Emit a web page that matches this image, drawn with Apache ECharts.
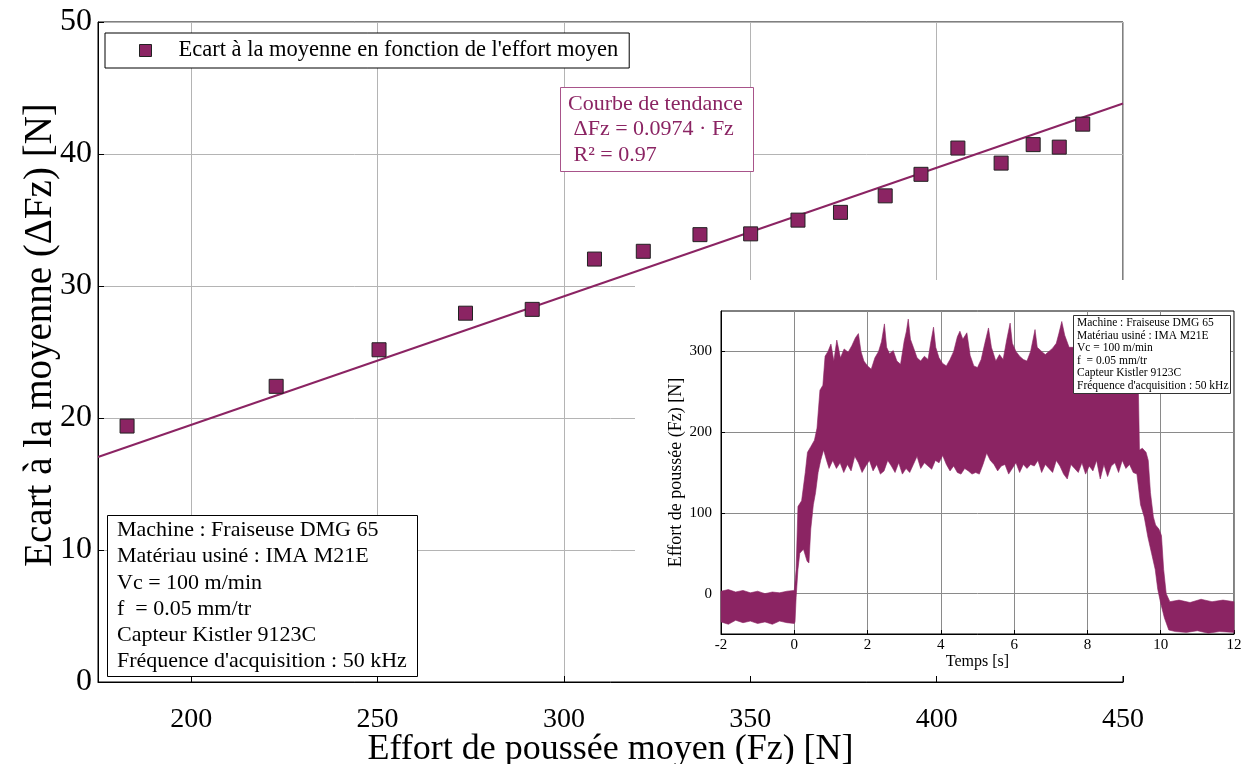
<!DOCTYPE html>
<html><head><meta charset="utf-8">
<script src="https://cdn.jsdelivr.net/npm/echarts@6/dist/echarts.min.js"></script>
<style>html,body{margin:0;padding:0;background:#fff}#c{width:1252px;height:764px}</style>
</head><body><div id="c"></div>
<script>
// ---- main scatter data ----
const effortMoyen = [182.8, 222.8, 250.4, 273.6, 291.5, 308.2, 321.3, 336.5, 350.1, 362.8, 374.2, 386.2, 395.8, 405.7, 417.3, 425.9, 432.9, 439.2];
const ecartMoyenne = [19.39, 22.4, 25.17, 27.94, 28.23, 32.04, 32.63, 33.89, 33.95, 34.99, 35.58, 36.83, 38.46, 40.45, 39.31, 40.71, 40.52, 42.26];
const trendSlope = 0.0974;
const trendRange = [175, 450];
const xTicks = [200, 250, 300, 350, 400, 450];
const yTicks = [0, 10, 20, 30, 40, 50];
// ---- inset signal envelope (time [s], force [N]) ----
const insetXTicks = [-2, 0, 2, 4, 6, 8, 10, 12];
const insetYTicks = [0, 100, 200, 300];
const insetUpper = [[-2,3],[-1.8,5],[-1.6,2],[-1.4,4],[-1.2,1],[-1.0,3],[-0.8,0],[-0.6,2],[-0.4,1],[-0.2,3],[0.0,4],[0.05,30],[0.1,108],[0.2,115],[0.3,150],[0.36,175],[0.45,182],[0.55,190],[0.62,205],[0.7,252],[0.78,258],[0.84,294],[0.92,300],[1.0,309],[1.08,288],[1.16,314],[1.26,292],[1.36,303],[1.47,299],[1.57,307],[1.67,317],[1.75,322],[1.82,300],[1.9,288],[2.0,282],[2.1,278],[2.2,292],[2.3,300],[2.38,312],[2.46,334],[2.52,305],[2.6,297],[2.7,301],[2.8,288],[2.9,284],[3.0,313],[3.06,325],[3.11,340],[3.17,315],[3.25,305],[3.35,292],[3.45,288],[3.55,294],[3.65,290],[3.72,310],[3.8,330],[3.86,305],[3.95,292],[4.05,285],[4.15,282],[4.25,290],[4.35,300],[4.45,318],[4.52,325],[4.6,315],[4.71,323],[4.8,295],[4.9,282],[5.0,280],[5.1,290],[5.2,310],[5.3,329],[5.38,305],[5.5,288],[5.6,296],[5.7,290],[5.8,315],[5.89,335],[5.95,310],[6.05,300],[6.15,294],[6.25,290],[6.35,288],[6.45,300],[6.57,327],[6.63,305],[6.75,300],[6.85,296],[6.95,300],[7.05,304],[7.15,310],[7.22,322],[7.3,337],[7.38,320],[7.5,305],[7.62,305],[7.8,300],[8.0,320],[8.2,300],[8.4,295],[8.65,320],[8.9,300],[9.1,290],[9.3,300],[9.38,280],[9.42,178],[9.5,180],[9.6,175],[9.66,165],[9.72,125],[9.8,95],[9.86,85],[9.95,80],[10.02,72],[10.08,30],[10.15,0],[10.25,-10],[10.5,-8],[10.8,-11],[11.1,-7],[11.4,-10],[11.7,-8],[12,-10]];
const insetLower = [[-2,-35],[-1.8,-38],[-1.6,-33],[-1.4,-36],[-1.2,-34],[-1.0,-37],[-0.8,-35],[-0.6,-38],[-0.4,-34],[-0.2,-36],[0.0,-37],[0.02,-35],[0.05,-5],[0.1,30],[0.15,50],[0.25,55],[0.35,40],[0.4,38],[0.45,80],[0.52,110],[0.58,125],[0.65,150],[0.72,165],[0.8,178],[0.88,165],[0.95,155],[1.05,165],[1.15,155],[1.25,162],[1.35,150],[1.45,160],[1.55,152],[1.65,170],[1.75,162],[1.85,150],[1.95,158],[2.05,165],[2.15,152],[2.25,160],[2.35,148],[2.45,152],[2.55,165],[2.65,158],[2.75,150],[2.85,162],[2.95,148],[3.05,155],[3.15,150],[3.25,160],[3.35,170],[3.45,155],[3.55,162],[3.65,158],[3.75,154],[3.85,165],[3.95,162],[4.05,171],[4.15,160],[4.25,152],[4.35,158],[4.45,150],[4.55,148],[4.65,155],[4.75,152],[4.85,148],[4.95,150],[5.05,148],[5.15,160],[5.25,174],[5.35,165],[5.45,160],[5.55,152],[5.65,158],[5.75,160],[5.85,148],[5.95,155],[6.05,162],[6.15,150],[6.25,160],[6.35,155],[6.45,160],[6.55,158],[6.65,165],[6.75,150],[6.85,160],[6.95,155],[7.05,150],[7.15,165],[7.25,158],[7.35,148],[7.45,142],[7.55,160],[7.65,155],[7.75,150],[7.85,162],[7.95,148],[8.05,158],[8.15,152],[8.25,165],[8.35,142],[8.45,160],[8.55,145],[8.65,158],[8.75,162],[8.85,150],[8.95,165],[9.05,155],[9.15,160],[9.25,150],[9.35,148],[9.45,110],[9.55,95],[9.65,70],[9.75,50],[9.85,30],[9.92,5],[10.0,-12],[10.1,-30],[10.22,-45],[10.4,-47],[10.7,-48],[11.0,-46],[11.3,-49],[11.6,-47],[12,-48]];

const PURPLE = '#8B2463';
const SERIF = '"Liberation Serif", "Times New Roman", serif';
const legendName = "Ecart à la moyenne en fonction de l'effort moyen";

const chart = echarts.init(document.getElementById('c'), null, {renderer: 'canvas'});
const option = {
  animation: false,
  backgroundColor: '#fff',
  textStyle: {fontFamily: SERIF, color: '#000'},
  grid: [
    {left: 98, top: 22, right: 129, bottom: 82, outerBoundsMode: 'none', containLabel: false,
     show: true, borderColor: '#000', borderWidth: 1, backgroundColor: 'transparent'},
    {left: 721, top: 311, right: 18, bottom: 130, outerBoundsMode: 'none', containLabel: false,
     show: true, borderColor: '#000', borderWidth: 1, backgroundColor: 'transparent', z: 10}
  ],
  title: [
    {text: 'Courbe de tendance\n ΔFz = 0.0974 · Fz\n R² = 0.97', left: 560, top: 87,
     padding: [4, 11, 4, 8], borderColor: '#A8538A', borderWidth: 1, backgroundColor: '#fff',
     textStyle: {fontFamily: SERIF, fontSize: 22, fontWeight: 'normal', color: PURPLE, lineHeight: 25.5}},
    {text: "Machine : Fraiseuse DMG 65\nMatériau usiné : IMA M21E\nVc = 100 m/min\nf  = 0.05 mm/tr\nCapteur Kistler 9123C\nFréquence d'acquisition : 50 kHz",
     left: 107, top: 515, padding: [2, 11, 2, 10], borderColor: '#000', borderWidth: 1, backgroundColor: '#fff',
     textStyle: {fontFamily: SERIF, fontSize: 22, fontWeight: 'normal', color: '#000', lineHeight: 26.3}},
    {text: "Machine : Fraiseuse DMG 65\nMatériau usiné : IMA M21E\nVc = 100 m/min\nf  = 0.05 mm/tr\nCapteur Kistler 9123C\nFréquence d'acquisition : 50 kHz",
     left: 1073, top: 315, z: 20, padding: [2, 2, 2, 4], borderColor: '#333', borderWidth: 1, backgroundColor: '#fff',
     textStyle: {fontFamily: SERIF, fontSize: 11.5, fontWeight: 'normal', color: '#000', lineHeight: 12.5}}
  ],
  legend: {
    left: 105, top: 33, padding: [6, 11, 6, 34], borderColor: '#000', borderWidth: 1, backgroundColor: '#fff',
    itemWidth: 12, itemHeight: 12,
    textStyle: {fontFamily: SERIF, fontSize: 22.5, color: '#000', padding: [0, 0, 0, 22]},
    data: [{name: legendName, icon: 'rect', itemStyle: {color: PURPLE, borderColor: '#222', borderWidth: 1}}]
  },
  graphic: {elements: [
    {type: 'rect', shape: {x: 635, y: 280, width: 617, height: 396}, style: {fill: '#fff'}, z: 5, silent: true}
  ]},
  xAxis: [
    {type: 'value', gridIndex: 0, min: trendRange[0], max: trendRange[1],
     axisLine: {show: true, onZero: false, lineStyle: {color: '#000', width: 1}},
     axisTick: {show: true, inside: true, length: 6, customValues: xTicks, lineStyle: {color: '#000'}},
     axisLabel: {customValues: xTicks, fontSize: 28, margin: 24, color: '#000', fontFamily: SERIF},
     splitLine: {show: true, lineStyle: {color: '#b4b4b4', width: 1}},
     name: 'Effort de poussée moyen (Fz) [N]', nameLocation: 'middle', nameGap: 50, nameMoveOverlap: false,
     nameTextStyle: {fontSize: 36, fontFamily: SERIF, color: '#000'}},
    {type: 'value', gridIndex: 1, min: -2, max: 12, interval: 2, z: 10,
     axisLine: {show: true, onZero: false, lineStyle: {color: '#000', width: 1}},
     axisTick: {show: true, inside: true, length: 4, lineStyle: {color: '#000'}},
     axisLabel: {fontSize: 15, margin: 4, color: '#000', fontFamily: SERIF},
     splitLine: {show: true, lineStyle: {color: '#8a8a8a', width: 1}},
     name: 'Temps [s]', nameLocation: 'middle', nameGap: 20,
     nameTextStyle: {fontSize: 16, fontFamily: SERIF, color: '#000'}}
  ],
  yAxis: [
    {type: 'value', gridIndex: 0, min: 0, max: 50, interval: 10,
     axisLine: {show: true, onZero: false, lineStyle: {color: '#000', width: 1}},
     axisTick: {show: true, inside: true, length: 6, lineStyle: {color: '#000'}},
     axisLabel: {fontSize: 32, margin: 6, color: '#000', fontFamily: SERIF},
     splitLine: {show: true, lineStyle: {color: '#b4b4b4', width: 1}},
     name: 'Ecart à la moyenne (ΔFz) [N]', nameLocation: 'middle', nameGap: 38, nameMoveOverlap: false,
     nameTextStyle: {fontSize: 39, fontFamily: SERIF, color: '#000', padding: [0, 0, 0, 34]}},
    {type: 'value', gridIndex: 1, min: -50, max: 350, z: 10,
     axisLine: {show: true, onZero: false, lineStyle: {color: '#000', width: 1}},
     axisTick: {show: true, inside: true, length: 4, customValues: insetYTicks, lineStyle: {color: '#000'}},
     axisLabel: {customValues: insetYTicks, fontSize: 15, margin: 9, color: '#000', fontFamily: SERIF},
     splitLine: {show: true, lineStyle: {color: '#8a8a8a', width: 1}},
     name: 'Effort de poussée (Fz) [N]', nameLocation: 'middle', nameGap: 36,
     nameTextStyle: {fontSize: 18, fontFamily: SERIF, color: '#000'}}
  ],
  series: [
    {type: 'line', name: 'Courbe de tendance', xAxisIndex: 0, yAxisIndex: 0, z: 2,
     data: trendRange.map(x => [x, trendSlope * x]), symbol: 'none',
     lineStyle: {color: PURPLE, width: 2}},
    {type: 'scatter', name: legendName, xAxisIndex: 0, yAxisIndex: 0, z: 3,
     data: effortMoyen.map((x, i) => [x, ecartMoyenne[i]]),
     symbol: 'rect', symbolSize: 14,
     itemStyle: {color: PURPLE, borderColor: '#222', borderWidth: 1, opacity: 1}},
    {type: 'custom', name: 'Signal', xAxisIndex: 1, yAxisIndex: 1, z: 11, silent: true,
     data: [[0, 0]],
     renderItem: function (params, api) {
       const pts = insetUpper.map(p => api.coord(p))
         .concat(insetLower.slice().reverse().map(p => api.coord(p)));
       return {type: 'polygon', shape: {points: pts},
               style: {fill: PURPLE, stroke: PURPLE, lineWidth: 0.6}};
     }}
  ]
};
chart.setOption(option);
</script>
</body></html>
